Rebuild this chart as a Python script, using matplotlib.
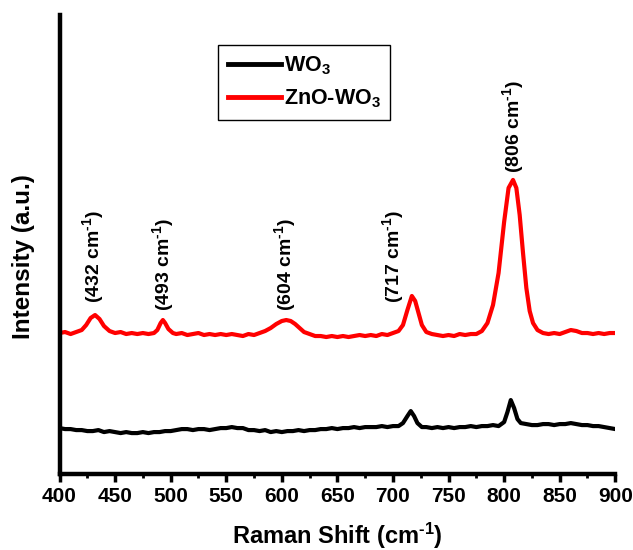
# -*- coding: utf-8 -*-
"""
WO3 / ZnO-WO3 拉曼光谱图
"""

import matplotlib
matplotlib.use('Agg')
import matplotlib.pyplot as plt
from matplotlib.ticker import MultipleLocator

# 字体设置（Arial 风格粗体）
plt.rcParams['font.family'] = ['Liberation Sans', 'DejaVu Sans']
plt.rcParams['font.weight'] = 'bold'
plt.rcParams['mathtext.fontset'] = 'custom'
plt.rcParams['mathtext.rm'] = 'Liberation Sans:bold'
plt.rcParams['mathtext.it'] = 'Liberation Sans:bold'
plt.rcParams['mathtext.bf'] = 'Liberation Sans:bold'
plt.rcParams['mathtext.default'] = 'rm'

# ZnO-WO3 光谱
x_znowo3 = [400, 405, 410, 415, 420, 424, 428, 432, 436, 440, 445, 450, 455, 460, 465,
            470, 475, 480, 485, 488, 491, 493, 495, 498, 502, 505, 510, 515, 520, 525,
            530, 535, 540, 545, 550, 555, 560, 565, 570, 575, 580, 585, 590, 595, 600,
            604, 608, 612, 616, 620, 625, 630, 635, 640, 645, 650, 655, 660, 665, 670,
            675, 680, 685, 690, 695, 700, 705, 709, 713, 717, 720, 723, 726, 730, 735,
            740, 745, 750, 755, 760, 765, 770, 775, 780, 785, 790, 795, 800, 804, 808,
            811, 814, 817, 820, 823, 826, 830, 835, 840, 845, 850, 855, 860, 865, 870,
            875, 880, 885, 890, 895, 900]
y_znowo3 = [141, 142, 140, 142, 144, 149, 156, 159, 155, 148, 143, 141, 142, 140, 141,
            140, 141, 140, 141, 144, 151, 154, 151, 145, 141, 140, 141, 139, 140, 141,
            139, 140, 139, 140, 139, 140, 139, 138, 140, 139, 141, 143, 146, 150, 153,
            154, 153, 150, 146, 142, 140, 138, 138, 137, 138, 137, 138, 137, 138, 139,
            138, 139, 138, 140, 139, 141, 143, 149, 164, 178, 173, 161, 149, 142, 140,
            139, 138, 139, 138, 140, 139, 140, 140, 143, 151, 169, 201, 252, 286, 294,
            286, 259, 221, 186, 163, 151, 144, 141, 140, 141, 140, 142, 144, 143, 141,
            141, 140, 141, 140, 141, 141]

# WO3 光谱
x_wo3 = [400, 405, 410, 415, 420, 425, 430, 435, 440, 445, 450, 455, 460, 465, 470,
         475, 480, 485, 490, 495, 500, 505, 510, 515, 520, 525, 530, 535, 540, 545,
         550, 555, 560, 565, 570, 575, 580, 585, 590, 595, 600, 605, 610, 615, 620,
         625, 630, 635, 640, 645, 650, 655, 660, 665, 670, 675, 680, 685, 690, 695,
         700, 705, 709, 713, 716, 719, 722, 726, 730, 735, 740, 745, 750, 755, 760,
         765, 770, 775, 780, 785, 790, 795, 800, 803, 806, 809, 812, 815, 820, 825,
         830, 835, 840, 845, 850, 855, 860, 865, 870, 875, 880, 885, 890, 895, 900]
y_wo3 = [46, 45, 45, 44, 44, 43, 43, 44, 42, 43, 42, 41, 42, 41, 41,
         42, 41, 42, 42, 43, 43, 44, 45, 45, 44, 45, 45, 44, 45, 46,
         46, 47, 46, 46, 44, 44, 43, 44, 42, 43, 42, 43, 43, 44, 43,
         44, 44, 45, 45, 46, 45, 46, 46, 47, 46, 47, 47, 47, 48, 47,
         48, 48, 51, 58, 63, 58, 51, 47, 47, 46, 47, 46, 47, 46, 47,
         47, 48, 47, 48, 48, 49, 48, 52, 62, 74, 66, 55, 51, 50, 49,
         49, 50, 50, 49, 50, 50, 51, 50, 49, 49, 48, 48, 47, 46, 45]

# 峰位标注
peak_labels = [r'(432 cm$^{\text{-}1}$)', r'(493 cm$^{\text{-}1}$)',
               r'(604 cm$^{\text{-}1}$)', r'(717 cm$^{\text{-}1}$)',
               r'(806 cm$^{\text{-}1}$)']
peak_x = [430, 493, 603, 700, 808]
peak_y = [171, 163, 163, 171, 301]

fig = plt.figure(figsize=(6.33, 5.5), dpi=100)
ax = fig.add_axes([0.094, 0.138, 0.878, 0.835])

ax.plot(x_wo3, y_wo3, color='black', linewidth=3, label='WO$_3$')
ax.plot(x_znowo3, y_znowo3, color='red', linewidth=3, label='ZnO-WO$_3$')

for txt, px, py in zip(peak_labels, peak_x, peak_y):
    ax.text(px, py, txt, rotation=90, ha='center', va='bottom',
            fontsize=14, fontweight='bold')

ax.set_xlim(400, 900)
ax.set_ylim(0, 459)
ax.xaxis.set_major_locator(MultipleLocator(50))
ax.xaxis.set_minor_locator(MultipleLocator(25))
ax.set_yticks([])

# 坐标轴样式
for s in ['top', 'right']:
    ax.spines[s].set_visible(False)
for s in ['left', 'bottom']:
    ax.spines[s].set_linewidth(3.2)
ax.tick_params(axis='x', which='major', direction='out', length=6, width=2.5,
               labelsize=15, pad=3)
ax.tick_params(axis='x', which='minor', direction='out', length=3, width=2)

ax.set_xlabel(r'Raman Shift (cm$^{\text{-}1}$)', fontsize=17, fontweight='bold',
              labelpad=11)
ax.set_ylabel('Intensity (a.u.)', fontsize=17.5, fontweight='bold')
ax.yaxis.set_label_coords(-0.044, 0.473)

leg = ax.legend(loc='upper left', bbox_to_anchor=(0.285, 0.935), fontsize=15.5,
                handlelength=2.5, handletextpad=0.1, borderpad=0.45,
                labelspacing=0.5, borderaxespad=0, fancybox=False, framealpha=1)
leg.get_frame().set_edgecolor('black')
leg.get_frame().set_linewidth(1)
for line in leg.get_lines():
    line.set_linewidth(3.5)

plt.savefig('out.png', dpi=100)
plt.close()
